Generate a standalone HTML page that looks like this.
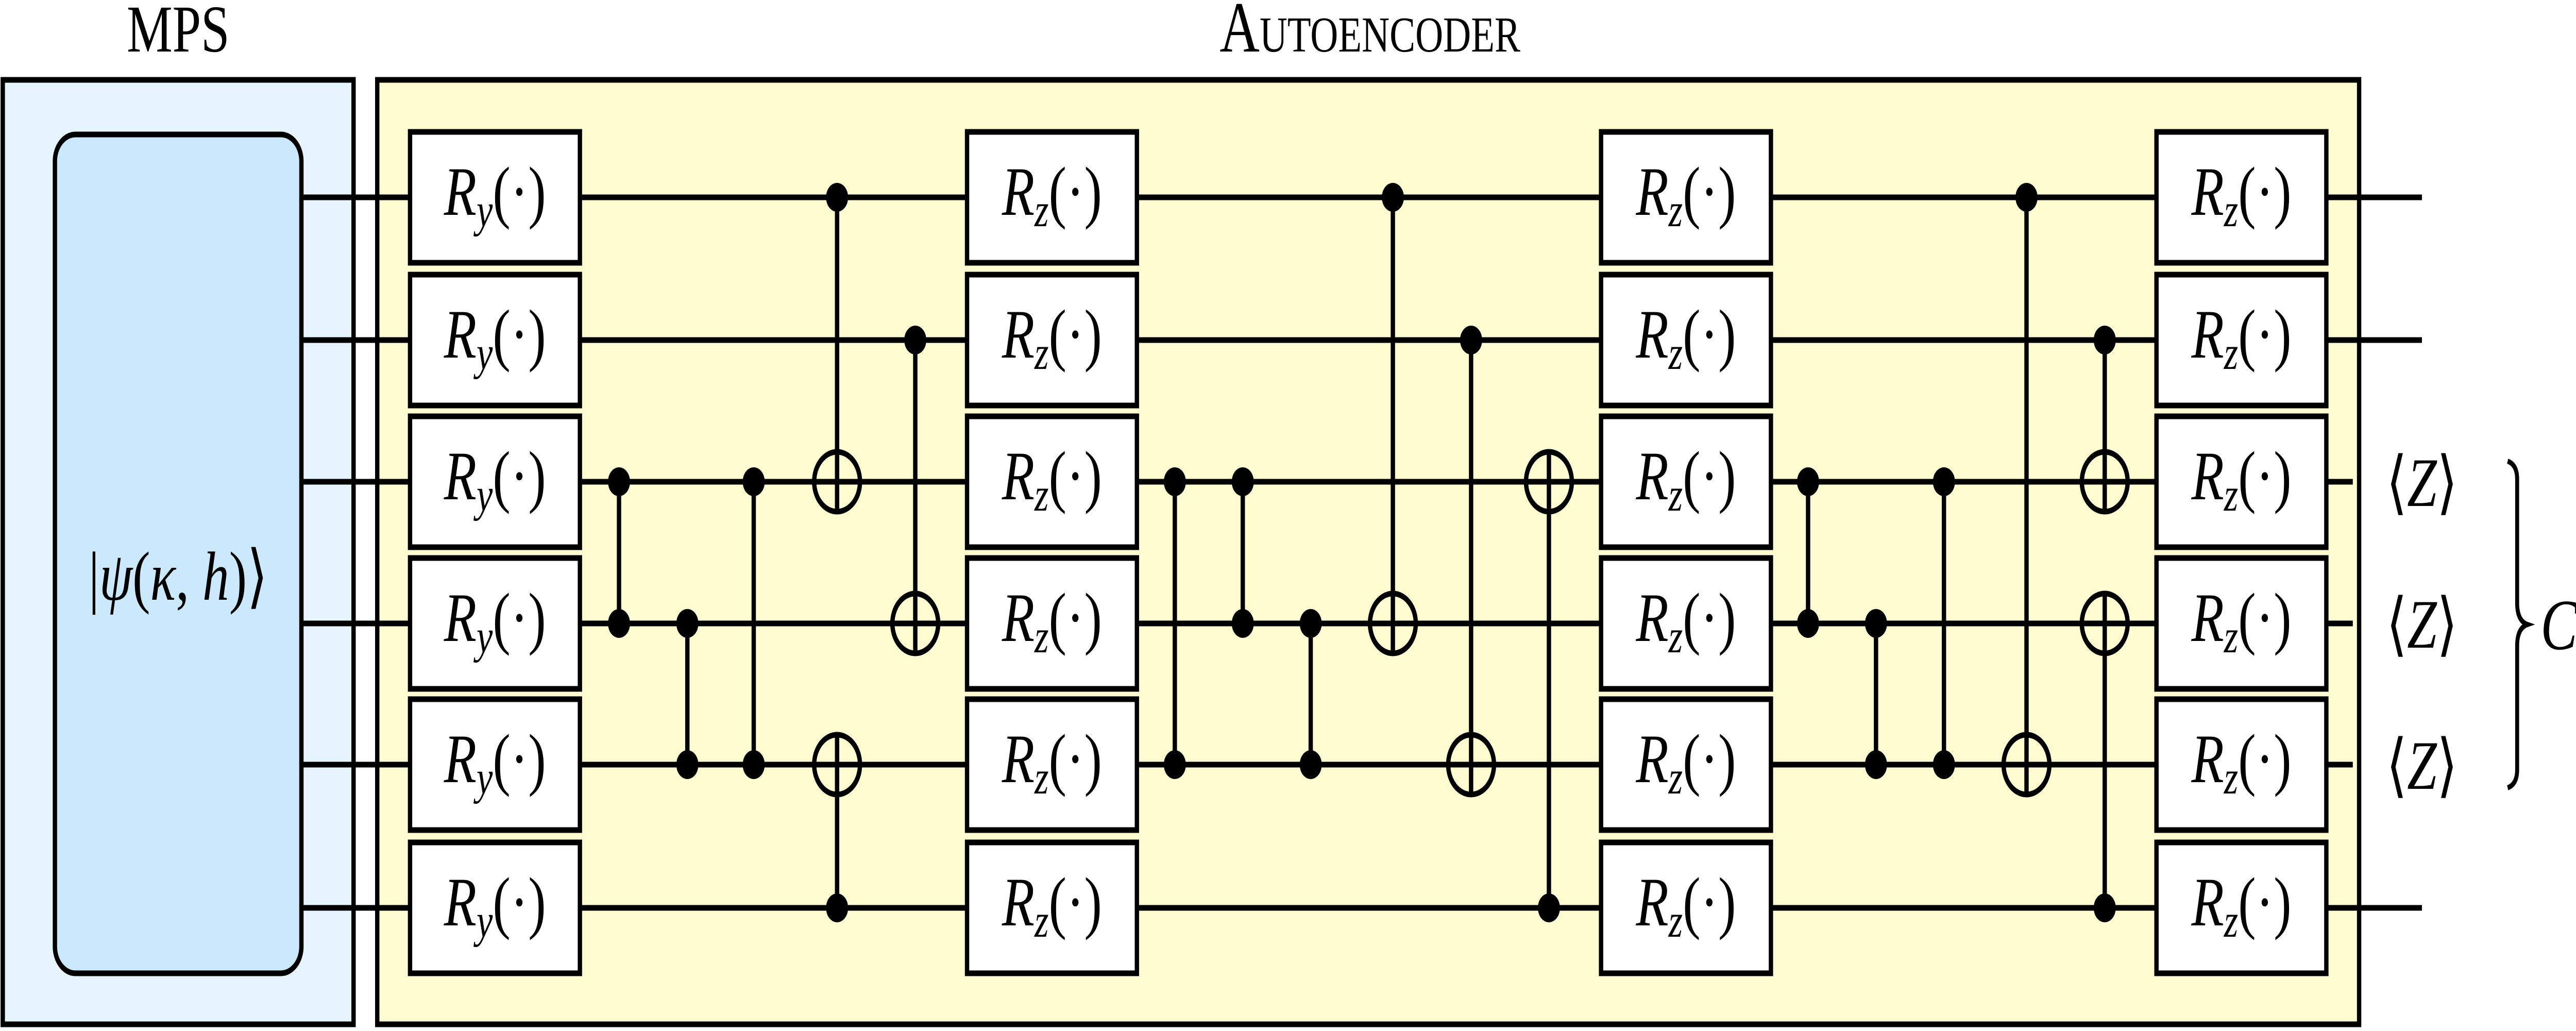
<!DOCTYPE html>
<html><head><meta charset="utf-8"><style>
html,body{margin:0;padding:0;background:#fff;overflow:hidden;width:100%;height:100%;}
svg{display:block;width:100vw;height:100vh;}
text{font-family:"Liberation Serif",serif;fill:#000;}
</style></head><body>
<svg viewBox="0 0 6521 2001" preserveAspectRatio="none" xmlns="http://www.w3.org/2000/svg">
<rect x="0" y="0" width="6521" height="2001" fill="#fff"/>
<text x="451" y="100" font-size="130" text-anchor="middle">MPS</text>
<text x="3468" y="100" font-size="140" text-anchor="middle" style="font-variant:small-caps">Autoencoder</text>
<rect x="7" y="155" width="888" height="1833" fill="#e6f4fe" stroke="#000" stroke-width="11"/>
<rect x="955" y="155" width="5017" height="1833" fill="#fefcd0" stroke="#000" stroke-width="11"/>
<g stroke="#000" stroke-width="11">
<line x1="765" y1="383" x2="6131" y2="383"/>
<line x1="765" y1="660" x2="6131" y2="660"/>
<line x1="765" y1="935" x2="5956" y2="935"/>
<line x1="765" y1="1210" x2="5956" y2="1210"/>
<line x1="765" y1="1484" x2="5956" y2="1484"/>
<line x1="765" y1="1762" x2="6131" y2="1762"/>
</g>
<rect x="139" y="261" width="624" height="1628" rx="52" ry="52" fill="#cce8fd" stroke="#000" stroke-width="11"/>
<text x="451" y="1164" font-size="135" text-anchor="middle">|<tspan font-style="italic">ψ</tspan>(<tspan font-style="italic">κ</tspan>, <tspan font-style="italic">h</tspan>)⟩</text>
<g fill="#fff" stroke="#000" stroke-width="11">
<rect x="1038" y="256" width="430" height="254"/><rect x="1038" y="533" width="430" height="254"/><rect x="1038" y="808" width="430" height="254"/><rect x="1038" y="1083" width="430" height="254"/><rect x="1038" y="1357" width="430" height="254"/><rect x="1038" y="1635" width="430" height="254"/>
<rect x="2448" y="256" width="430" height="254"/><rect x="2448" y="533" width="430" height="254"/><rect x="2448" y="808" width="430" height="254"/><rect x="2448" y="1083" width="430" height="254"/><rect x="2448" y="1357" width="430" height="254"/><rect x="2448" y="1635" width="430" height="254"/>
<rect x="4053" y="256" width="430" height="254"/><rect x="4053" y="533" width="430" height="254"/><rect x="4053" y="808" width="430" height="254"/><rect x="4053" y="1083" width="430" height="254"/><rect x="4053" y="1357" width="430" height="254"/><rect x="4053" y="1635" width="430" height="254"/>
<rect x="5459" y="256" width="430" height="254"/><rect x="5459" y="533" width="430" height="254"/><rect x="5459" y="808" width="430" height="254"/><rect x="5459" y="1083" width="430" height="254"/><rect x="5459" y="1357" width="430" height="254"/><rect x="5459" y="1635" width="430" height="254"/>
</g>
<g font-size="135" text-anchor="middle">
<text x="1253" y="417"><tspan font-style="italic">R</tspan><tspan font-size="92" font-style="italic" dy="22">y</tspan><tspan dy="-22">(·)</tspan></text>
<text x="1253" y="694"><tspan font-style="italic">R</tspan><tspan font-size="92" font-style="italic" dy="22">y</tspan><tspan dy="-22">(·)</tspan></text>
<text x="1253" y="969"><tspan font-style="italic">R</tspan><tspan font-size="92" font-style="italic" dy="22">y</tspan><tspan dy="-22">(·)</tspan></text>
<text x="1253" y="1244"><tspan font-style="italic">R</tspan><tspan font-size="92" font-style="italic" dy="22">y</tspan><tspan dy="-22">(·)</tspan></text>
<text x="1253" y="1518"><tspan font-style="italic">R</tspan><tspan font-size="92" font-style="italic" dy="22">y</tspan><tspan dy="-22">(·)</tspan></text>
<text x="1253" y="1796"><tspan font-style="italic">R</tspan><tspan font-size="92" font-style="italic" dy="22">y</tspan><tspan dy="-22">(·)</tspan></text>
<text x="2663" y="417"><tspan font-style="italic">R</tspan><tspan font-size="92" font-style="italic" dy="22">z</tspan><tspan dy="-22">(·)</tspan></text>
<text x="2663" y="694"><tspan font-style="italic">R</tspan><tspan font-size="92" font-style="italic" dy="22">z</tspan><tspan dy="-22">(·)</tspan></text>
<text x="2663" y="969"><tspan font-style="italic">R</tspan><tspan font-size="92" font-style="italic" dy="22">z</tspan><tspan dy="-22">(·)</tspan></text>
<text x="2663" y="1244"><tspan font-style="italic">R</tspan><tspan font-size="92" font-style="italic" dy="22">z</tspan><tspan dy="-22">(·)</tspan></text>
<text x="2663" y="1518"><tspan font-style="italic">R</tspan><tspan font-size="92" font-style="italic" dy="22">z</tspan><tspan dy="-22">(·)</tspan></text>
<text x="2663" y="1796"><tspan font-style="italic">R</tspan><tspan font-size="92" font-style="italic" dy="22">z</tspan><tspan dy="-22">(·)</tspan></text>
<text x="4268" y="417"><tspan font-style="italic">R</tspan><tspan font-size="92" font-style="italic" dy="22">z</tspan><tspan dy="-22">(·)</tspan></text>
<text x="4268" y="694"><tspan font-style="italic">R</tspan><tspan font-size="92" font-style="italic" dy="22">z</tspan><tspan dy="-22">(·)</tspan></text>
<text x="4268" y="969"><tspan font-style="italic">R</tspan><tspan font-size="92" font-style="italic" dy="22">z</tspan><tspan dy="-22">(·)</tspan></text>
<text x="4268" y="1244"><tspan font-style="italic">R</tspan><tspan font-size="92" font-style="italic" dy="22">z</tspan><tspan dy="-22">(·)</tspan></text>
<text x="4268" y="1518"><tspan font-style="italic">R</tspan><tspan font-size="92" font-style="italic" dy="22">z</tspan><tspan dy="-22">(·)</tspan></text>
<text x="4268" y="1796"><tspan font-style="italic">R</tspan><tspan font-size="92" font-style="italic" dy="22">z</tspan><tspan dy="-22">(·)</tspan></text>
<text x="5674" y="417"><tspan font-style="italic">R</tspan><tspan font-size="92" font-style="italic" dy="22">z</tspan><tspan dy="-22">(·)</tspan></text>
<text x="5674" y="694"><tspan font-style="italic">R</tspan><tspan font-size="92" font-style="italic" dy="22">z</tspan><tspan dy="-22">(·)</tspan></text>
<text x="5674" y="969"><tspan font-style="italic">R</tspan><tspan font-size="92" font-style="italic" dy="22">z</tspan><tspan dy="-22">(·)</tspan></text>
<text x="5674" y="1244"><tspan font-style="italic">R</tspan><tspan font-size="92" font-style="italic" dy="22">z</tspan><tspan dy="-22">(·)</tspan></text>
<text x="5674" y="1518"><tspan font-style="italic">R</tspan><tspan font-size="92" font-style="italic" dy="22">z</tspan><tspan dy="-22">(·)</tspan></text>
<text x="5674" y="1796"><tspan font-style="italic">R</tspan><tspan font-size="92" font-style="italic" dy="22">z</tspan><tspan dy="-22">(·)</tspan></text>
</g>
<g stroke="#000" stroke-width="11">
<line x1="1567" y1="935" x2="1567" y2="1210"/>
<line x1="1740" y1="1210" x2="1740" y2="1484"/>
<line x1="1908" y1="935" x2="1908" y2="1484"/>
<line x1="2119" y1="383" x2="2119" y2="997"/>
<line x1="2119" y1="1762" x2="2119" y2="1422"/>
<line x1="2317" y1="660" x2="2317" y2="1272"/>
<line x1="2974" y1="935" x2="2974" y2="1484"/>
<line x1="3146" y1="935" x2="3146" y2="1210"/>
<line x1="3318" y1="1210" x2="3318" y2="1484"/>
<line x1="3526" y1="383" x2="3526" y2="1272"/>
<line x1="3724" y1="660" x2="3724" y2="1546"/>
<line x1="3921" y1="1762" x2="3921" y2="873"/>
<line x1="4577" y1="935" x2="4577" y2="1210"/>
<line x1="4749" y1="1210" x2="4749" y2="1484"/>
<line x1="4921" y1="935" x2="4921" y2="1484"/>
<line x1="5130" y1="383" x2="5130" y2="1546"/>
<line x1="5328" y1="660" x2="5328" y2="997"/>
<line x1="5328" y1="1762" x2="5328" y2="1148"/>
</g>
<g fill="#000">
<circle cx="1567" cy="935" r="28"/><circle cx="1567" cy="1210" r="28"/>
<circle cx="1740" cy="1210" r="28"/><circle cx="1740" cy="1484" r="28"/>
<circle cx="1908" cy="935" r="28"/><circle cx="1908" cy="1484" r="28"/>
<circle cx="2119" cy="383" r="28"/><circle cx="2119" cy="1762" r="28"/>
<circle cx="2317" cy="660" r="28"/>
<circle cx="2974" cy="935" r="28"/><circle cx="2974" cy="1484" r="28"/>
<circle cx="3146" cy="935" r="28"/><circle cx="3146" cy="1210" r="28"/>
<circle cx="3318" cy="1210" r="28"/><circle cx="3318" cy="1484" r="28"/>
<circle cx="3526" cy="383" r="28"/>
<circle cx="3724" cy="660" r="28"/>
<circle cx="3921" cy="1762" r="28"/>
<circle cx="4577" cy="935" r="28"/><circle cx="4577" cy="1210" r="28"/>
<circle cx="4749" cy="1210" r="28"/><circle cx="4749" cy="1484" r="28"/>
<circle cx="4921" cy="935" r="28"/><circle cx="4921" cy="1484" r="28"/>
<circle cx="5130" cy="383" r="28"/>
<circle cx="5328" cy="660" r="28"/><circle cx="5328" cy="1762" r="28"/>
</g>
<g fill="none" stroke="#000" stroke-width="11">
<circle cx="2119" cy="935" r="58"/>
<circle cx="2119" cy="1484" r="58"/>
<circle cx="2317" cy="1210" r="58"/>
<circle cx="3526" cy="1210" r="58"/>
<circle cx="3724" cy="1484" r="58"/>
<circle cx="3921" cy="935" r="58"/>
<circle cx="5130" cy="1484" r="58"/>
<circle cx="5328" cy="935" r="58"/>
<circle cx="5328" cy="1210" r="58"/>
</g>
<g font-size="135" text-anchor="middle">
<text x="6131" y="982">⟨<tspan font-style="italic">Z</tspan>⟩</text>
<text x="6131" y="1257">⟨<tspan font-style="italic">Z</tspan>⟩</text>
<text x="6131" y="1531">⟨<tspan font-style="italic">Z</tspan>⟩</text>
</g>
<path d="M6348 895 Q6372 902 6372 930 L6372 1170 Q6372 1205 6398 1212 Q6372 1219 6372 1254 L6372 1494 Q6372 1522 6348 1529" fill="none" stroke="#000" stroke-width="10"/>
<text x="6478" y="1260" font-size="140" text-anchor="middle" font-style="italic">C</text>
</svg>
</body></html>
